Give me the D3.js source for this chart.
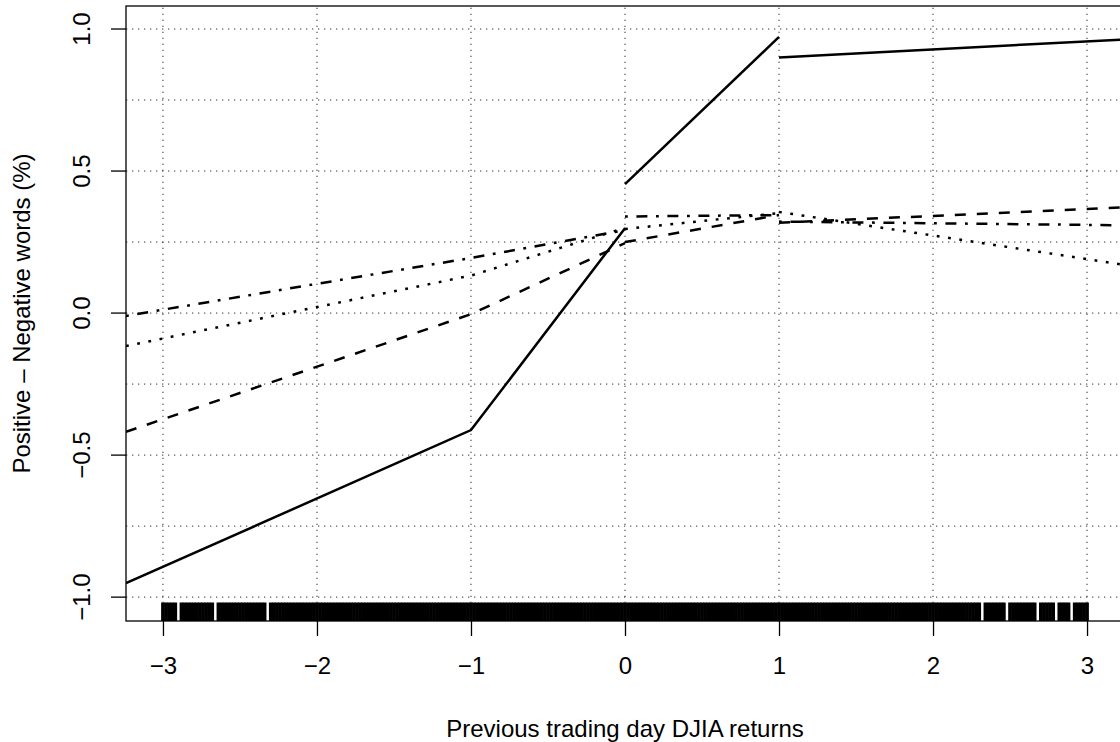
<!DOCTYPE html>
<html>
<head>
<meta charset="utf-8">
<script src="https://cdn.jsdelivr.net/npm/d3@7"></script>
<style>
body { margin: 0; background: #fff; }
text { font-family: "Liberation Sans", Arial, Helvetica, sans-serif; font-size: 24px; fill: #000; }
</style>
</head>
<body>
<script>
var width = 1120,
    height = 742;

// fitted piecewise lines, breaks at -1, 0 and 1
var knots = [-3.24, -1, 0, 1, 3.24];

var solidLeft = [-0.951, -0.412, 0.299],
    solidMid = [0.454, 0.972],
    solidRight = [0.900, 0.963];

var dashedLeft = [-0.418, -0.004, 0.246],
    dashedMid = [0.250, 0.345],
    dashedRight = [0.318, 0.372];

var dottedLeft = [-0.116, 0.132, 0.300],
    dottedMid = [0.296, 0.352],
    dottedRight = [0.356, 0.170];

var dashdotLeft = [-0.010, 0.194, 0.292],
    dashdotMid = [0.340, 0.345],
    dashdotRight = [0.322, 0.309];

var xTicks = [-3, -2, -1, 0, 1, 2, 3];
var yTicks = [-1, -0.5, 0, 0.5, 1];
var yGrid = [-1, -0.75, -0.5, -0.25, 0, 0.25, 0.5, 0.75, 1];

// previous day returns shown in the rug (winsorised at +-3)
var rugReturns = [
 -3.00,-2.98,-2.96,-2.94,-2.92,-2.88,-2.86,-2.84,-2.82,-2.80,
 -2.78,-2.76,-2.74,-2.72,-2.70,-2.68,-2.64,-2.62,-2.60,-2.58,
 -2.56,-2.54,-2.52,-2.50,-2.48,-2.46,-2.44,-2.42,-2.40,-2.38,
 -2.36,-2.34,-2.30,-2.28,-2.26,-2.24,-2.22,-2.20,-2.18,
 -2.16,-2.14,-2.12,-2.10,-2.08,-2.06,-2.04,-2.02,-2.00,-1.98,
 -1.96,-1.94,-1.92,-1.90,-1.88,-1.86,-1.84,-1.82,-1.80,-1.78,
 -1.76,-1.74,-1.72,-1.70,-1.68,-1.66,-1.64,-1.62,-1.60,-1.58,
 -1.56,-1.54,-1.52,-1.50,-1.48,-1.46,-1.44,-1.42,-1.40,-1.38,
 -1.36,-1.34,-1.32,-1.30,-1.28,-1.26,-1.24,-1.22,-1.20,-1.18,
 -1.16,-1.14,-1.12,-1.10,-1.08,-1.06,-1.04,-1.02,-1.00,-0.98,
 -0.96,-0.94,-0.92,-0.90,-0.88,-0.86,-0.84,-0.82,-0.80,-0.78,
 -0.76,-0.74,-0.72,-0.70,-0.68,-0.66,-0.64,-0.62,-0.60,-0.58,
 -0.56,-0.54,-0.52,-0.50,-0.48,-0.46,-0.44,-0.42,-0.40,-0.38,
 -0.36,-0.34,-0.32,-0.30,-0.28,-0.26,-0.24,-0.22,-0.20,-0.18,
 -0.16,-0.14,-0.12,-0.10,-0.08,-0.06,-0.04,-0.02,0.00,0.02,
 0.04,0.06,0.08,0.10,0.12,0.14,0.16,0.18,0.20,0.22,
 0.24,0.26,0.28,0.30,0.32,0.34,0.36,0.38,0.40,0.42,
 0.44,0.46,0.48,0.50,0.52,0.54,0.56,0.58,0.60,0.62,
 0.64,0.66,0.68,0.70,0.72,0.74,0.76,0.78,0.80,0.82,
 0.84,0.86,0.88,0.90,0.92,0.94,0.96,0.98,1.00,1.02,
 1.04,1.06,1.08,1.10,1.12,1.14,1.16,1.18,1.20,1.22,
 1.24,1.26,1.28,1.30,1.32,1.34,1.36,1.38,1.40,1.42,
 1.44,1.46,1.48,1.50,1.52,1.54,1.56,1.58,1.60,1.62,
 1.64,1.66,1.68,1.70,1.72,1.74,1.76,1.78,1.80,1.82,
 1.84,1.86,1.88,1.90,1.92,1.94,1.96,1.98,2.00,2.02,
 2.04,2.06,2.08,2.10,2.12,2.14,2.16,2.18,2.20,2.22,
 2.24,2.26,2.28,2.30,2.34,2.36,2.38,2.40,2.42,2.44,
 2.46,2.50,2.52,2.54,2.56,2.58,2.60,2.62,2.64,2.66,
 2.70,2.72,2.74,2.76,2.78,2.82,2.84,2.86,2.88,2.92,
 2.94,2.96,2.98,3.00
];

var x = d3.scaleLinear().domain([-3.24, 3.24]).range([126, 1124]);
var y = d3.scaleLinear().domain([-1.084, 1.081]).range([621, 6]);

var svg = d3.select("body").append("svg")
    .attr("width", width)
    .attr("height", height);

svg.append("defs").append("clipPath")
    .attr("id", "plotclip")
  .append("rect")
    .attr("x", x.range()[0]).attr("y", y.range()[1])
    .attr("width", x.range()[1] - x.range()[0])
    .attr("height", y.range()[0] - y.range()[1]);

// grid
var grid = svg.append("g")
    .attr("stroke", "#333")
    .attr("stroke-width", 1)
    .attr("stroke-dasharray", "1.3,4.7");
grid.selectAll(".vg")
    .data(xTicks)
    .enter().append("line")
    .attr("x1", function(d) { return x(d); })
    .attr("x2", function(d) { return x(d); })
    .attr("y1", y.range()[0])
    .attr("y2", y.range()[1]);
grid.selectAll(".hg")
    .data(yGrid)
    .enter().append("line")
    .attr("y1", function(d) { return y(d); })
    .attr("y2", function(d) { return y(d); })
    .attr("x1", x.range()[0])
    .attr("x2", x.range()[1]);

// series table built from the arrays above
function pieces(left, mid, right) {
    return [
        knots.slice(0, 3).map(function(k, i) { return [k, left[i]]; }),
        knots.slice(2, 4).map(function(k, i) { return [k, mid[i]]; }),
        knots.slice(3, 5).map(function(k, i) { return [k, right[i]]; })
    ];
}
var series = [
    { name: "solid", dash: null, segs: pieces(solidLeft, solidMid, solidRight) },
    { name: "dashed", dash: "11,11", segs: pieces(dashedLeft, dashedMid, dashedRight) },
    { name: "dotted", dash: "2.8,8.6", segs: pieces(dottedLeft, dottedMid, dottedRight) },
    { name: "dashdot", dash: "2.8,8.6,11,8.6", segs: pieces(dashdotLeft, dashdotMid, dashdotRight) }
];

var line = d3.line()
    .x(function(d) { return x(d[0]); })
    .y(function(d) { return y(d[1]); });

var lines = svg.append("g").attr("clip-path", "url(#plotclip)");
series.forEach(function(s) {
    lines.selectAll("." + s.name)
        .data(s.segs)
        .enter().append("path")
        .attr("class", s.name)
        .attr("d", line)
        .attr("fill", "none")
        .attr("stroke", "#000")
        .attr("stroke-width", 2.5)
        .attr("stroke-dasharray", s.dash);
});

// rug
svg.append("g")
    .selectAll("line")
    .data(rugReturns)
    .enter().append("line")
    .attr("x1", function(d) { return x(d); })
    .attr("x2", function(d) { return x(d); })
    .attr("y1", y.range()[0])
    .attr("y2", y.range()[0] - 18.5)
    .attr("stroke", "#000")
    .attr("stroke-width", 3.7);

// box
svg.append("rect")
    .attr("x", x.range()[0]).attr("y", y.range()[1])
    .attr("width", x.range()[1] - x.range()[0])
    .attr("height", y.range()[0] - y.range()[1])
    .attr("fill", "none")
    .attr("stroke", "#000")
    .attr("stroke-width", 1.3);

// x axis
var xAxis = svg.append("g")
    .attr("transform", "translate(0," + y.range()[0] + ")")
    .call(d3.axisBottom(x)
        .tickValues(xTicks)
        .tickSize(15)
        .tickPadding(21)
        .tickFormat(d3.format("d")));
xAxis.select(".domain").remove();
xAxis.selectAll("line").attr("stroke-width", 1.3);
xAxis.selectAll("text")
    .style("font-size", "24px")
    .style("font-family", "'Liberation Sans', Arial, sans-serif");
xAxis.attr("font-size", null).attr("font-family", null);

// y axis
var yAxis = svg.append("g");
yAxis.selectAll("line")
    .data(yTicks)
    .enter().append("line")
    .attr("x1", x.range()[0] - 15)
    .attr("x2", x.range()[0])
    .attr("y1", function(d) { return y(d); })
    .attr("y2", function(d) { return y(d); })
    .attr("stroke", "#000")
    .attr("stroke-width", 1.3);
yAxis.selectAll("text")
    .data(yTicks)
    .enter().append("text")
    .attr("transform", function(d) { return "translate(90," + y(d) + ") rotate(-90)"; })
    .attr("text-anchor", "middle")
    .text(d3.format(".1f"));

// axis titles
svg.append("text")
    .attr("x", (x.range()[0] + x.range()[1]) / 2)
    .attr("y", 737)
    .attr("text-anchor", "middle")
    .text("Previous trading day DJIA returns");

svg.append("text")
    .attr("transform", "translate(30," + (y.range()[0] + y.range()[1]) / 2 + ") rotate(-90)")
    .attr("text-anchor", "middle")
    .text("Positive \u2013 Negative words (%)");
</script>
</body>
</html>
